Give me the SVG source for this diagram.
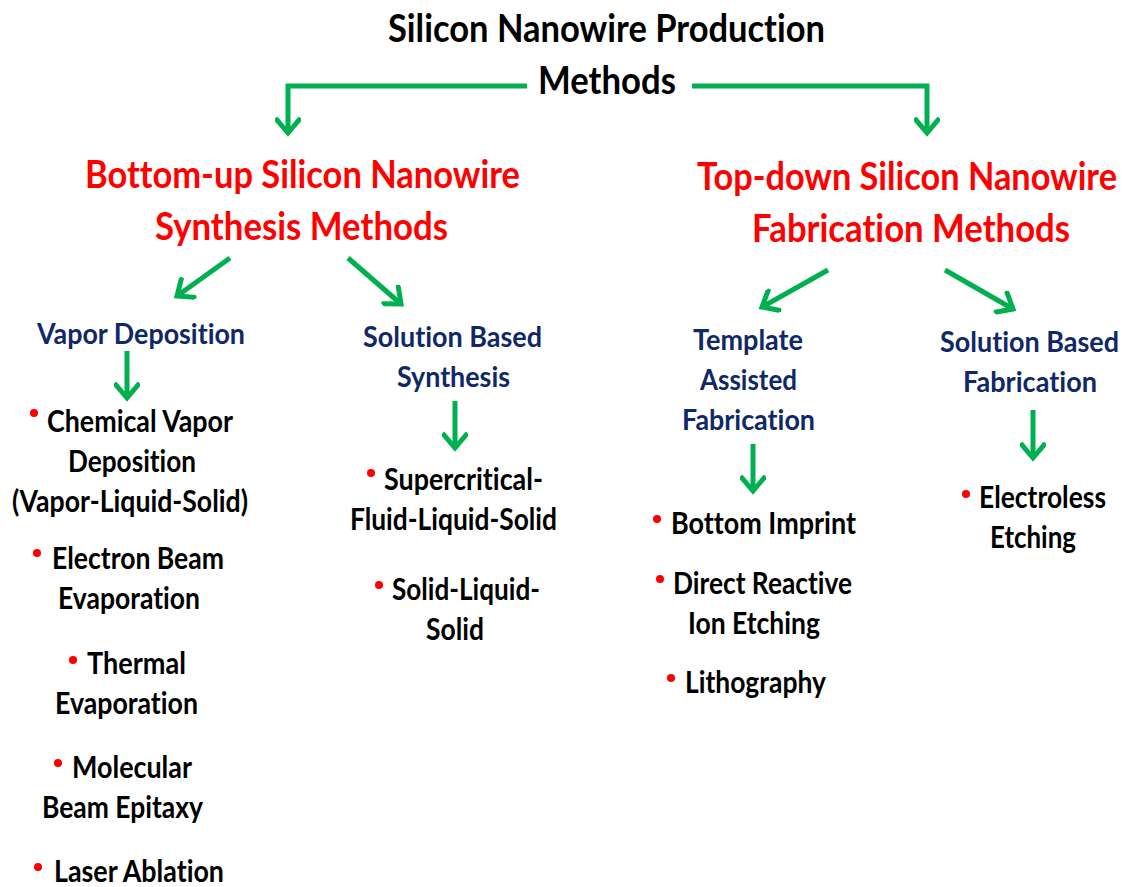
<svg xmlns="http://www.w3.org/2000/svg" width="1134" height="887" viewBox="0 0 1134 887">
  <style>
    text { font-family: Lato, "Open Sans", "Liberation Sans", sans-serif; font-weight: bold; font-variant-ligatures: none; }
    .title { font-size: 39px; fill: #000000; text-anchor: middle; }
    .branch { font-size: 39px; fill: #ff0000; text-anchor: middle; }
    .group { font-size: 29px; fill: #0f2866; text-anchor: middle; }
    .item { font-size: 30px; fill: #000000; }
    .dot { fill: #ff0000; }
    .conn { fill: none; stroke: #00b050; stroke-width: 5; stroke-linejoin: miter; }
  </style>
  <defs>
    <marker id="chev" viewBox="-16 -13 20 26" markerWidth="20" markerHeight="26" refX="0" refY="0" orient="auto" markerUnits="userSpaceOnUse">
      <path d="M -13 -11 L 0 0 L -13 11" fill="none" stroke="#00b050" stroke-width="5" stroke-linecap="square"/>
    </marker>
  </defs>

  <!-- connectors -->
  <g id="connectors">
    <path class="conn" d="M 527 86 H 288 V 133" marker-end="url(#chev)"/>
    <path class="conn" d="M 692 86 H 927 V 133" marker-end="url(#chev)"/>
    <path class="conn" d="M 230 258 L 177 296" marker-end="url(#chev)"/>
    <path class="conn" d="M 348 258 L 401 304" marker-end="url(#chev)"/>
    <path class="conn" d="M 828 270 L 762 307" marker-end="url(#chev)"/>
    <path class="conn" d="M 945 270 L 1013 309" marker-end="url(#chev)"/>
    <path class="conn" d="M 127 351 V 398" marker-end="url(#chev)"/>
    <path class="conn" d="M 455 401 V 448" marker-end="url(#chev)"/>
    <path class="conn" d="M 753 444 V 491" marker-end="url(#chev)"/>
    <path class="conn" d="M 1033 410 V 458" marker-end="url(#chev)"/>
  </g>

  <!-- root -->
  <g id="root">
    <text class="title" x="606.5" y="42" textLength="437" lengthAdjust="spacingAndGlyphs">Silicon Nanowire Production</text>
    <text class="title" x="607" y="94" textLength="138" lengthAdjust="spacingAndGlyphs">Methods</text>
  </g>

  <!-- bottom-up branch -->
  <g id="bottom-up">
    <text class="branch" x="302.5" y="188" textLength="435" lengthAdjust="spacingAndGlyphs">Bottom-up Silicon Nanowire</text>
    <text class="branch" x="301.5" y="240" textLength="293" lengthAdjust="spacingAndGlyphs">Synthesis Methods</text>
  </g>

  <!-- top-down branch -->
  <g id="top-down">
    <text class="branch" x="907" y="190" textLength="420" lengthAdjust="spacingAndGlyphs">Top-down Silicon Nanowire</text>
    <text class="branch" x="911" y="242" textLength="318" lengthAdjust="spacingAndGlyphs">Fabrication Methods</text>
  </g>

  <!-- vapor deposition -->
  <g id="vapor-deposition">
    <text class="group" x="141" y="344" textLength="208" lengthAdjust="spacingAndGlyphs">Vapor Deposition</text>
  </g>
  <g id="vapor-items">
    <circle class="dot" cx="34" cy="413" r="4"/>
    <text class="item" x="47" y="432" textLength="186" lengthAdjust="spacingAndGlyphs">Chemical Vapor</text>
    <text class="item" x="68" y="472" textLength="128" lengthAdjust="spacingAndGlyphs">Deposition</text>
    <text class="item" x="12" y="512" textLength="236" lengthAdjust="spacingAndGlyphs">(Vapor-Liquid-Solid)</text>
    <circle class="dot" cx="37" cy="553" r="4"/>
    <text class="item" x="52" y="569" textLength="172" lengthAdjust="spacingAndGlyphs">Electron Beam</text>
    <text class="item" x="58" y="609" textLength="142" lengthAdjust="spacingAndGlyphs">Evaporation</text>
    <circle class="dot" cx="73" cy="660" r="4"/>
    <text class="item" x="87" y="674" textLength="99" lengthAdjust="spacingAndGlyphs">Thermal</text>
    <text class="item" x="55" y="714" textLength="143" lengthAdjust="spacingAndGlyphs">Evaporation</text>
    <circle class="dot" cx="58" cy="763" r="4"/>
    <text class="item" x="72" y="778" textLength="120" lengthAdjust="spacingAndGlyphs">Molecular</text>
    <text class="item" x="42" y="818" textLength="161" lengthAdjust="spacingAndGlyphs">Beam Epitaxy</text>
    <circle class="dot" cx="38" cy="867" r="4"/>
    <text class="item" x="54" y="882" textLength="170" lengthAdjust="spacingAndGlyphs">Laser Ablation</text>
  </g>

  <!-- solution based synthesis -->
  <g id="solution-synthesis">
    <text class="group" x="452.5" y="347" textLength="179" lengthAdjust="spacingAndGlyphs">Solution Based</text>
    <text class="group" x="453.5" y="387" textLength="113" lengthAdjust="spacingAndGlyphs">Synthesis</text>
  </g>
  <g id="solution-synthesis-items">
    <circle class="dot" cx="371" cy="473" r="4"/>
    <text class="item" x="384" y="490" textLength="159" lengthAdjust="spacingAndGlyphs">Supercritical-</text>
    <text class="item" x="350" y="530" textLength="207" lengthAdjust="spacingAndGlyphs">Fluid-Liquid-Solid</text>
    <circle class="dot" cx="379" cy="585" r="4"/>
    <text class="item" x="392" y="600" textLength="148" lengthAdjust="spacingAndGlyphs">Solid-Liquid-</text>
    <text class="item" x="426" y="640" textLength="58" lengthAdjust="spacingAndGlyphs">Solid</text>
  </g>

  <!-- template assisted fabrication -->
  <g id="template-assisted">
    <text class="group" x="748" y="350" textLength="110" lengthAdjust="spacingAndGlyphs">Template</text>
    <text class="group" x="748.5" y="390" textLength="97" lengthAdjust="spacingAndGlyphs">Assisted</text>
    <text class="group" x="748.5" y="430" textLength="133" lengthAdjust="spacingAndGlyphs">Fabrication</text>
  </g>
  <g id="template-items">
    <circle class="dot" cx="657" cy="519" r="4"/>
    <text class="item" x="671" y="534" textLength="185" lengthAdjust="spacingAndGlyphs">Bottom Imprint</text>
    <circle class="dot" cx="660" cy="579" r="4"/>
    <text class="item" x="673" y="594" textLength="179" lengthAdjust="spacingAndGlyphs">Direct Reactive</text>
    <text class="item" x="688" y="634" textLength="132" lengthAdjust="spacingAndGlyphs">Ion Etching</text>
    <circle class="dot" cx="671" cy="678" r="4"/>
    <text class="item" x="685" y="693" textLength="141" lengthAdjust="spacingAndGlyphs">Lithography</text>
  </g>

  <!-- solution based fabrication -->
  <g id="solution-fabrication">
    <text class="group" x="1029.5" y="352" textLength="179" lengthAdjust="spacingAndGlyphs">Solution Based</text>
    <text class="group" x="1030" y="392" textLength="134" lengthAdjust="spacingAndGlyphs">Fabrication</text>
  </g>
  <g id="solution-fabrication-items">
    <circle class="dot" cx="966" cy="494" r="4"/>
    <text class="item" x="979" y="508" textLength="127" lengthAdjust="spacingAndGlyphs">Electroless</text>
    <text class="item" x="990" y="548" textLength="86" lengthAdjust="spacingAndGlyphs">Etching</text>
  </g>
</svg>
